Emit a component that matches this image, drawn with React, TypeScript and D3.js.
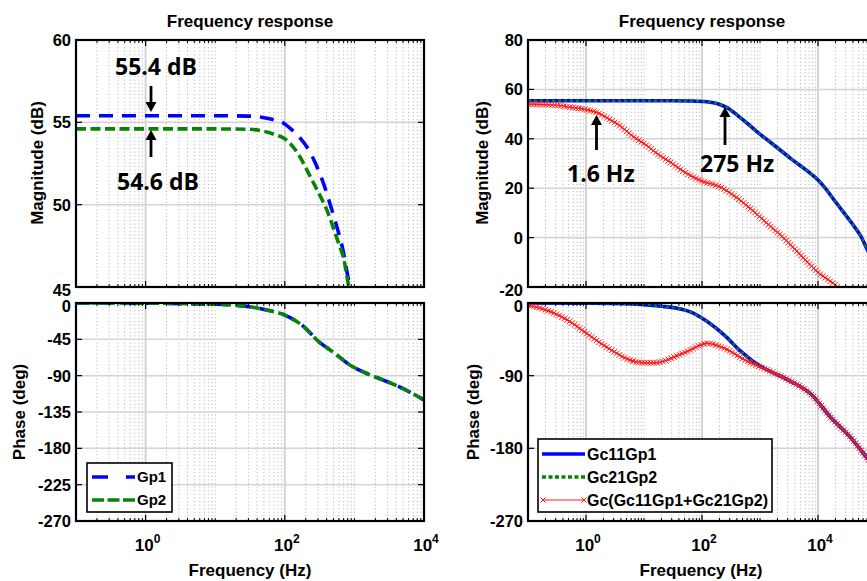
import React, { useEffect, useRef, useState } from 'react';
import * as d3 from 'd3';

const W = 867;
const H = 581;

// ---------- Left panel: plant responses ----------
const gp1MagFreq = [0.1, 1, 10, 30, 63, 100, 130, 170, 230, 290, 380, 450, 530, 680, 860, 1000];
const gp1MagDb = [55.4, 55.4, 55.4, 55.38, 55.2, 54.9, 54.5, 54.0, 53.2, 52.3, 51.0, 50.0, 49.0, 47.3, 45.0, 43.8];

const gp2MagFreq = [0.1, 1, 10, 30, 45, 62, 80, 100, 160, 220, 260, 343, 400, 507, 600, 704, 830, 1000];
const gp2MagDb = [54.6, 54.6, 54.6, 54.58, 54.5, 54.35, 54.2, 54.0, 53.0, 51.9, 51.3, 50.3, 49.7, 48.5, 47.6, 46.7, 45.05, 44.0];

const plantPhaseFreq = [0.1, 1, 5, 10, 18, 30, 55, 100, 180, 310, 480, 870, 1480, 2600, 4460, 10000];
const plantPhaseDeg = [0, -0.2, -1, -1.5, -2.5, -4.5, -8.7, -15, -28, -48, -60, -77, -87, -95.5, -104, -120];

// ---------- Right panel: loop responses ----------
const loopMagFreq = [0.1, 1, 10, 30, 63, 120, 180, 275, 400, 600, 903, 1800, 3400, 6600, 10000, 13000, 20000, 37000, 55000, 73000, 100000];
const loopMagDb = [55.4, 55.4, 55.4, 55.4, 55.3, 55.0, 54.3, 52.5, 49.7, 46.3, 42.7, 37.2, 32.0, 26.9, 23.3, 20.3, 14.5, 6.3, 0.5, -5.5, -11];

const sumMagFreq = [0.1, 0.3, 0.53, 1, 1.55, 2.5, 3.9, 6, 11.3, 18, 28.6, 50, 94.6, 209, 355, 690, 1350, 2630, 5000, 9700, 21700, 30000];
const sumMagDb = [54.0, 53.6, 52.8, 51.8, 50.6, 48.0, 45.2, 41.5, 37.2, 33.5, 30.5, 26.5, 23.1, 20.4, 17.0, 11.7, 5.6, -0.4, -7.1, -13.8, -19.9, -23];

const loopPhaseFreq = [0.1, 1, 5, 10, 20, 40, 63, 123, 240, 470, 900, 1350, 3400, 7600, 16700, 37000, 74000, 100000];
const loopPhaseDeg = [0, -0.3, -1, -2, -4, -7, -11, -23, -39.5, -60, -76, -83, -97, -113, -142, -167, -194, -205];

const sumPhaseFreq = [0.1, 0.27, 0.5, 1, 1.8, 3, 5, 9.9, 15, 22, 35, 56, 95, 123, 240, 600, 1350, 3400, 7600, 16700, 37000, 74000, 100000];
const sumPhaseDeg = [-2.5, -12, -22, -37, -50, -60, -69, -74, -74, -72, -66, -60, -52, -50, -56, -72, -83, -97, -113, -142, -167, -194, -205];

// ---------- Axes ticks / labels ----------
const leftMagTicks = [45, 50, 55, 60];
const phaseTicksLeft = [0, -45, -90, -135, -180, -225, -270];
const rightMagTicks = [-20, 0, 20, 40, 60, 80];
const phaseTicksRight = [0, -90, -180, -270];
const xLabelDecades = [0, 2, 4];
const titleText = 'Frequency response';
const xAxisTitle = 'Frequency  (Hz)';
const magTitle = 'Magnitude (dB)';
const phaseTitle = 'Phase (deg)';
const leftLegend = ['Gp1', 'Gp2'];
const rightLegend = ['Gc11Gp1', 'Gc21Gp2', 'Gc(Gc11Gp1+Gc21Gp2)'];
const annotations = ['55.4 dB', '54.6 dB', '1.6 Hz', '275 Hz'];

type Pt = { f: number; v: number };
const zip = (fs: number[], vs: number[]): Pt[] => fs.map((f, i) => ({ f, v: vs[i] }));

const FONT = '"Liberation Sans", Arial, Helvetica, sans-serif';
const BLUE = '#0000ff';
const GREEN = '#0a820a';
const RED = '#ff1a1a';

const magTop = 40, magBot = 287, phTop = 303, phBot = 521;

function MarkedLine({ d, clip }: { d: string; clip: string }) {
  const ref = useRef<SVGPathElement>(null);
  const [pts, setPts] = useState<[number, number][]>([]);
  useEffect(() => {
    const p = ref.current;
    if (!p) return;
    const L = p.getTotalLength();
    const out: [number, number][] = [];
    for (let s = 0; s <= L; s += 3.0) {
      const q = p.getPointAtLength(s);
      out.push([q.x, q.y]);
    }
    setPts(out);
  }, [d]);
  const r = 2.8;
  const md = pts.map(([x, y]) => `M${x - r},${y - r}L${x + r},${y + r}M${x - r},${y + r}L${x + r},${y - r}`).join('');
  return (
    <g clipPath={`url(#${clip})`}>
      <path ref={ref} d={d} fill="none" stroke={RED} strokeWidth={1.3} />
      <path d={md} fill="none" stroke={RED} strokeWidth={1.0} />
    </g>
  );
}

function Panel({ id, x, y, yTicks, showX, labelShift, children }: any) {
  const [x0, x1] = x.range();
  const [y0, y1] = [y.range()[1], y.range()[0]]; // top, bottom
  const labeled = xLabelDecades.map((k) => Math.pow(10, k)).filter((v) => v >= x.domain()[0] && v <= x.domain()[1]);
  const isLabeled = (t: number) => labeled.some((v) => Math.abs(Math.log10(v) - Math.log10(t)) < 1e-6);
  const minor = x.ticks().filter((t: number) => !isLabeled(t) && x(t) > x0 + 0.5 && x(t) < x1 - 0.5);
  const yd = y.domain();
  return (
    <g>
      <defs>
        <clipPath id={id}>
          <rect x={x0} y={y0} width={x1 - x0} height={y1 - y0} />
        </clipPath>
      </defs>
      <rect x={x0} y={y0} width={x1 - x0} height={y1 - y0} fill="#fff" />
      {minor.map((t: number, i: number) => (
        <line key={'mg' + i} x1={x(t)} x2={x(t)} y1={y0} y2={y1} stroke="#9a9a9a" strokeWidth={0.8} strokeDasharray="1,2.6" />
      ))}
      {labeled.map((t: number, i: number) => (
        <line key={'Mg' + i} x1={x(t)} x2={x(t)} y1={y0} y2={y1} stroke="#d4d4d4" strokeWidth={2} />
      ))}
      {yTicks.filter((t: number) => t !== yd[0] && t !== yd[1]).map((t: number, i: number) => (
        <line key={'hg' + i} x1={x0} x2={x1} y1={y(t)} y2={y(t)} stroke="#d4d4d4" strokeWidth={1.5} />
      ))}
      <g clipPath={`url(#${id})`}>{children}</g>
      {minor.map((t: number, i: number) => (
        <g key={'mt' + i}>
          <line x1={x(t)} x2={x(t)} y1={y1} y2={y1 - 3} stroke="#000" strokeWidth={1} />
          <line x1={x(t)} x2={x(t)} y1={y0} y2={y0 + 3} stroke="#000" strokeWidth={1} />
        </g>
      ))}
      {labeled.map((t: number, i: number) => (
        <g key={'Mt' + i}>
          <line x1={x(t)} x2={x(t)} y1={y1} y2={y1 - 6} stroke="#000" strokeWidth={1.2} />
          <line x1={x(t)} x2={x(t)} y1={y0} y2={y0 + 6} stroke="#000" strokeWidth={1.2} />
        </g>
      ))}
      {yTicks.map((t: number, i: number) => {
        const shift = labelShift && labelShift[String(t)] ? labelShift[String(t)] : 0;
        return (
          <g key={'yt' + i}>
            <line x1={x0} x2={x0 + 6} y1={y(t)} y2={y(t)} stroke="#000" strokeWidth={1.2} />
            <line x1={x1} x2={x1 - 6} y1={y(t)} y2={y(t)} stroke="#000" strokeWidth={1.2} />
            <text x={x0 - 5} y={y(t) + shift} dy="0.36em" textAnchor="end" fontFamily={FONT} fontWeight="bold" fontSize={16.5}>
              {t}
            </text>
          </g>
        );
      })}
      {showX &&
        labeled.map((t: number, i: number) => (
          <text key={'xl' + i} x={x(t) + 2} y={551} textAnchor="middle" fontFamily={FONT} fontWeight="bold" fontSize={17}>
            <tspan>10</tspan>
            <tspan dy={-8} fontSize={12}>{Math.round(Math.log10(t))}</tspan>
          </text>
        ))}
      <rect x={x0} y={y0} width={x1 - x0} height={y1 - y0} fill="none" stroke="#000" strokeWidth={2.2} />
    </g>
  );
}

function Arrow({ x, yTail, yTip }: { x: number; yTail: number; yTip: number }) {
  const dir = yTip > yTail ? 1 : -1;
  const hl = 10;
  return (
    <g>
      <line x1={x} x2={x} y1={yTail} y2={yTip - dir * hl + dir * 1} stroke="#000" strokeWidth={2.8} />
      <polygon points={`${x - 5.5},${yTip - dir * hl} ${x + 5.5},${yTip - dir * hl} ${x},${yTip}`} fill="#000" />
    </g>
  );
}

export default function App() {
  useEffect(() => {
    document.body.style.margin = '0';
    document.body.style.overflow = 'hidden';
  }, []);

  const leftX = d3.scaleLog().domain([0.1, 1e4]).range([76, 424]);
  const rightX = d3.scaleLog().domain([0.1, 1e5]).range([528, 876]);
  const leftMagY = d3.scaleLinear().domain([45, 60]).range([magBot, magTop]);
  const rightMagY = d3.scaleLinear().domain([-20, 80]).range([magBot, magTop]);
  const phY = d3.scaleLinear().domain([-270, 0]).range([phBot, phTop]);

  const mk = (x: any, y: any) =>
    d3
      .line<Pt>()
      .x((p) => x(p.f))
      .y((p) => y(p.v))
      .curve(d3.curveMonotoneX);

  const lMag = mk(leftX, leftMagY);
  const lPh = mk(leftX, phY);
  const rMag = mk(rightX, rightMagY);
  const rPh = mk(rightX, phY);

  const gp1Mag = lMag(zip(gp1MagFreq, gp1MagDb)) || '';
  const gp2Mag = lMag(zip(gp2MagFreq, gp2MagDb)) || '';
  const plantPh = lPh(zip(plantPhaseFreq, plantPhaseDeg)) || '';
  const loopMag = rMag(zip(loopMagFreq, loopMagDb)) || '';
  const sumMag = rMag(zip(sumMagFreq, sumMagDb)) || '';
  const loopPh = rPh(zip(loopPhaseFreq, loopPhaseDeg)) || '';
  const sumPh = rPh(zip(sumPhaseFreq, sumPhaseDeg)) || '';

  const annFont = '"Open Sans", "Noto Sans", sans-serif';
  const magShiftL = { '45': 3 };
  const magShiftR = { '-20': 3 };
  const phShift = { '0': 3 };

  return (
    <svg width={W} height={H} style={{ position: 'absolute', left: 0, top: 0, background: '#fff' }} xmlns="http://www.w3.org/2000/svg">
      <rect x={0} y={0} width={W} height={H} fill="#fff" />
      <text x={250} y={27} textAnchor="middle" fontFamily={FONT} fontWeight="bold" fontSize={17}>{titleText}</text>
      <text x={702} y={27} textAnchor="middle" fontFamily={FONT} fontWeight="bold" fontSize={17}>{titleText}</text>

      <Panel id="clpLM" x={leftX} y={leftMagY} yTicks={leftMagTicks} showX={false} labelShift={magShiftL}>
        <path d={gp1Mag} fill="none" stroke={BLUE} strokeWidth={3.6} strokeDasharray="14,9" />
        <path d={gp2Mag} fill="none" stroke={GREEN} strokeWidth={3.6} strokeDasharray="10,4.5" />
      </Panel>
      <Panel id="clpLP" x={leftX} y={phY} yTicks={phaseTicksLeft} showX={true} labelShift={phShift}>
        <path d={plantPh} fill="none" stroke={BLUE} strokeWidth={3.6} strokeDasharray="14,9" />
        <path d={plantPh} fill="none" stroke={GREEN} strokeWidth={3.6} strokeDasharray="10,4.5" />
      </Panel>
      <Panel id="clpRM" x={rightX} y={rightMagY} yTicks={rightMagTicks} showX={false} labelShift={magShiftR}>
        <path d={loopMag} fill="none" stroke={BLUE} strokeWidth={3.6} />
        <path d={loopMag} fill="none" stroke={GREEN} strokeWidth={2.4} strokeDasharray="3,3" />
        <MarkedLine d={sumMag} clip="clpRM" />
      </Panel>
      <Panel id="clpRP" x={rightX} y={phY} yTicks={phaseTicksRight} showX={true} labelShift={phShift}>
        <path d={loopPh} fill="none" stroke={BLUE} strokeWidth={3.6} />
        <path d={loopPh} fill="none" stroke={GREEN} strokeWidth={2.4} strokeDasharray="3,3" />
        <MarkedLine d={sumPh} clip="clpRP" />
      </Panel>

      <text x={250} y={576} textAnchor="middle" fontFamily={FONT} fontWeight="bold" fontSize={17}>{xAxisTitle}</text>
      <text x={701} y={576} textAnchor="middle" fontFamily={FONT} fontWeight="bold" fontSize={17}>{xAxisTitle}</text>
      <text transform="translate(43,163) rotate(-90)" textAnchor="middle" fontFamily={FONT} fontWeight="bold" fontSize={17}>{magTitle}</text>
      <text transform="translate(25,412) rotate(-90)" textAnchor="middle" fontFamily={FONT} fontWeight="bold" fontSize={17}>{phaseTitle}</text>
      <text transform="translate(488,163) rotate(-90)" textAnchor="middle" fontFamily={FONT} fontWeight="bold" fontSize={17}>{magTitle}</text>
      <text transform="translate(479,412) rotate(-90)" textAnchor="middle" fontFamily={FONT} fontWeight="bold" fontSize={17}>{phaseTitle}</text>

      <g>
        <rect x={87} y={463} width={85} height={49} fill="#fff" stroke="#000" strokeWidth={1.6} />
        <line x1={92} x2={135} y1={477} y2={477} stroke={BLUE} strokeWidth={3.6} strokeDasharray="16,18" />
        <line x1={92} x2={135} y1={500} y2={500} stroke={GREEN} strokeWidth={3.6} strokeDasharray="12,3.5" />
        <text x={137} y={477} dy="0.36em" fontFamily={FONT} fontWeight="bold" fontSize={15}>{leftLegend[0]}</text>
        <text x={137} y={500} dy="0.36em" fontFamily={FONT} fontWeight="bold" fontSize={15}>{leftLegend[1]}</text>
      </g>
      <g>
        <rect x={538} y={439} width={234} height={73} fill="#fff" stroke="#000" strokeWidth={1.6} />
        <line x1={542} x2={585} y1={454} y2={454} stroke={BLUE} strokeWidth={3.6} />
        <line x1={542} x2={585} y1={477} y2={477} stroke={GREEN} strokeWidth={3.6} strokeDasharray="4,2.5" />
        <line x1={543} x2={584} y1={500} y2={500} stroke={RED} strokeWidth={1.2} />
        {[543, 584].map((cx, i) => (
          <path key={i} d={`M${cx - 2.5},${497.5}L${cx + 2.5},${502.5}M${cx - 2.5},${502.5}L${cx + 2.5},${497.5}`} stroke={RED} strokeWidth={1} />
        ))}
        {rightLegend.map((t, i) => (
          <text key={i} x={587} y={454 + i * 23} dy="0.36em" fontFamily={FONT} fontWeight="bold" fontSize={16}>{t}</text>
        ))}
      </g>

      <Arrow x={151} yTail={86} yTip={112} />
      <Arrow x={151} yTail={157} yTip={130} />
      <text x={115} y={75} fontFamily={annFont} fontWeight="bold" fontSize={23}>{annotations[0]}</text>
      <text x={117} y={190} fontFamily={annFont} fontWeight="bold" fontSize={23}>{annotations[1]}</text>
      <Arrow x={596.5} yTail={150} yTip={115} />
      <Arrow x={725} yTail={145} yTip={107} />
      <text x={567} y={182} fontFamily={annFont} fontWeight="bold" fontSize={23}>{annotations[2]}</text>
      <text x={700} y={172} fontFamily={annFont} fontWeight="bold" fontSize={23}>{annotations[3]}</text>
    </svg>
  );
}
